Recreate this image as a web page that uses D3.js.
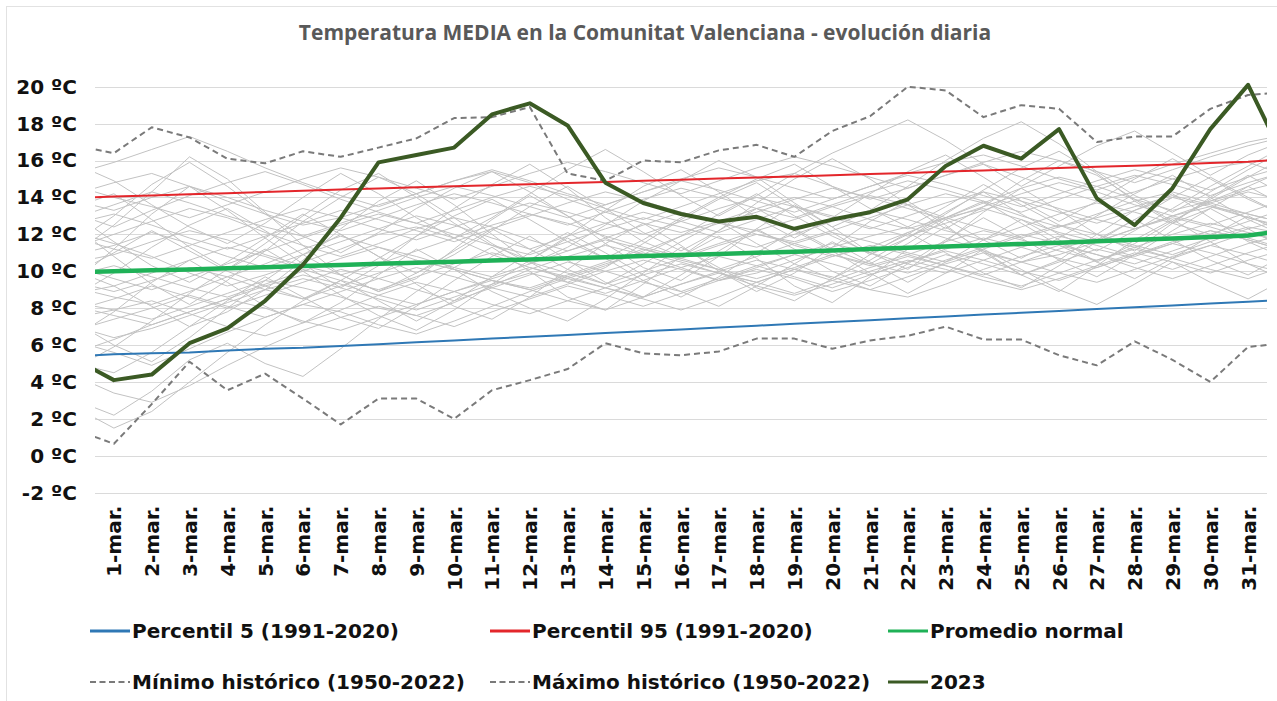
<!DOCTYPE html>
<html>
<head>
<meta charset="utf-8">
<script src="https://cdn.jsdelivr.net/npm/d3@7"></script>
<style>
  body { margin: 0; background: #fff; }
  svg { display: block; }
</style>
</head>
<body>
<div id="chart"></div>
<script>
// days shown on the axis, plus the half-visible neighbours at each edge
const days = ["28-feb."].concat(d3.range(1, 32).map(d => d + "-mar."), ["1-abr."]);
const tickDays = days.slice(1, 32);
const yTicks = [-2, 0, 2, 4, 6, 8, 10, 12, 14, 16, 18, 20];

const p5 = [5.4, 5.5, 5.55, 5.6, 5.7, 5.8, 5.85, 5.95, 6.05, 6.15, 6.25, 6.35, 6.45, 6.55, 6.65, 6.75, 6.85, 6.95, 7.05, 7.15, 7.25, 7.35, 7.45, 7.55, 7.65, 7.75, 7.85, 7.95, 8.05, 8.15, 8.25, 8.35, 8.45];
const p95 = [13.98, 14.05, 14.1, 14.17, 14.23, 14.3, 14.36, 14.43, 14.49, 14.55, 14.6, 14.66, 14.72, 14.78, 14.84, 14.9, 14.96, 15.02, 15.08, 15.14, 15.2, 15.27, 15.33, 15.4, 15.46, 15.53, 15.59, 15.66, 15.72, 15.79, 15.86, 15.93, 16.06];
const promedio = [9.95, 10.0, 10.05, 10.1, 10.16, 10.22, 10.28, 10.34, 10.4, 10.46, 10.52, 10.58, 10.64, 10.7, 10.76, 10.82, 10.88, 10.94, 11.0, 11.06, 11.13, 11.2, 11.27, 11.34, 11.41, 11.48, 11.55, 11.62, 11.7, 11.78, 11.86, 11.94, 12.2];
const minimo = [1.4, 0.65, 2.8, 5.1, 3.55, 4.45, 3.1, 1.7, 3.1, 3.1, 2.0, 3.55, 4.1, 4.7, 6.1, 5.55, 5.45, 5.65, 6.35, 6.35, 5.8, 6.25, 6.5, 7.0, 6.3, 6.3, 5.45, 4.9, 6.2, 5.2, 4.0, 5.9, 6.1];
const maximo = [16.8, 16.4, 17.8, 17.25, 16.1, 15.85, 16.5, 16.2, 16.7, 17.2, 18.3, 18.35, 18.9, 15.3, 14.9, 16.0, 15.9, 16.55, 16.85, 16.2, 17.6, 18.4, 20.0, 19.8, 18.35, 19.0, 18.8, 17.0, 17.3, 17.3, 18.8, 19.55, 19.7];
const y2023 = [5.2, 4.1, 4.4, 6.1, 6.9, 8.4, 10.35, 12.9, 15.9, 16.3, 16.7, 18.5, 19.1, 17.9, 14.8, 13.7, 13.1, 12.7, 12.95, 12.3, 12.8, 13.2, 13.9, 15.7, 16.8, 16.1, 17.7, 13.95, 12.5, 14.5, 17.7, 20.1, 15.9];

// individual years 1950-2022 (a selection of them)
const g1 = [12.1, 11.5, 10.8, 9.9, 9.2, 9.8, 10.5, 11.2, 12.0, 12.4, 11.8, 10.9, 10.2, 9.6, 10.3, 11.1, 11.9, 12.6, 12.2, 11.4, 10.8, 11.3, 12.1, 12.9, 13.4, 12.8, 12.1, 11.6, 12.3, 13.0, 13.5, 13.1, 12.6];
const g2 = [8.3, 7.9, 7.4, 8.1, 8.8, 9.5, 9.1, 8.6, 8.0, 7.6, 8.3, 9.2, 10.1, 10.8, 11.4, 10.9, 10.2, 9.5, 9.9, 10.6, 11.3, 11.9, 12.4, 11.8, 11.1, 10.5, 10.9, 11.6, 12.3, 12.9, 12.4, 11.8, 11.2];
const g3 = [14.2, 14.8, 15.3, 14.6, 13.8, 13.1, 12.5, 12.9, 13.6, 14.2, 14.9, 15.4, 14.8, 13.9, 13.2, 12.6, 12.1, 12.7, 13.4, 14.0, 13.5, 12.8, 12.3, 12.9, 13.7, 14.5, 15.1, 14.6, 13.9, 13.3, 13.8, 14.4, 14.9];
const g4 = [6.2, 5.6, 4.9, 5.8, 6.7, 7.5, 8.2, 7.8, 7.1, 6.6, 7.3, 8.1, 8.9, 9.6, 9.1, 8.5, 7.9, 8.6, 9.4, 10.1, 9.7, 9.0, 8.6, 9.3, 10.1, 10.8, 11.4, 10.9, 10.2, 9.6, 10.3, 11.0, 11.6];
const g5 = [10.5, 10.9, 11.6, 12.2, 11.7, 10.9, 10.3, 9.8, 10.4, 11.1, 11.8, 12.5, 13.1, 12.6, 11.9, 11.3, 10.8, 11.5, 12.2, 12.8, 13.5, 14.1, 13.6, 12.9, 12.3, 11.8, 12.4, 13.1, 13.8, 14.3, 13.7, 13.1, 12.6];
const g6 = [9.1, 8.6, 8.2, 8.9, 9.7, 10.4, 11.2, 11.9, 11.3, 10.6, 10.1, 9.5, 9.1, 9.8, 10.5, 11.2, 10.7, 10.1, 9.6, 10.2, 10.9, 10.4, 9.9, 10.6, 11.3, 12.0, 11.5, 10.9, 10.4, 11.1, 11.8, 12.4, 12.0];
const g7 = [13.1, 12.4, 13.3, 14.1, 14.8, 15.4, 14.7, 13.9, 13.2, 12.6, 13.3, 14.0, 14.6, 14.1, 13.4, 12.8, 13.5, 14.2, 14.9, 15.3, 14.6, 13.9, 14.5, 15.2, 15.8, 15.1, 14.4, 13.8, 14.3, 15.0, 15.6, 15.9, 15.2];
const g8 = [7.5, 7.9, 8.4, 7.7, 7.0, 6.5, 7.2, 7.9, 8.7, 9.4, 8.9, 8.2, 7.7, 8.4, 9.1, 9.8, 10.4, 9.9, 9.2, 8.7, 9.3, 10.0, 10.6, 10.1, 9.5, 9.0, 9.6, 10.3, 11.0, 10.5, 9.9, 10.6, 11.2];
const g9 = [11.3, 12.0, 12.7, 13.4, 12.9, 12.1, 11.4, 10.8, 11.5, 12.3, 12.9, 12.4, 11.7, 11.1, 11.8, 12.5, 13.2, 12.7, 12.0, 11.6, 12.2, 12.9, 13.6, 14.2, 13.7, 13.0, 12.4, 12.9, 13.5, 14.1, 13.6, 12.9, 12.3];
const g10 = [4.3, 3.4, 2.9, 3.8, 4.9, 5.9, 6.8, 7.5, 8.1, 7.6, 7.0, 7.8, 8.5, 9.2, 8.7, 8.1, 8.8, 9.5, 10.1, 9.6, 8.9, 9.5, 10.2, 10.9, 10.4, 9.8, 10.5, 11.2, 10.7, 10.1, 10.8, 11.5, 12.0];
const g11 = [15.3, 15.9, 16.6, 17.3, 16.5, 15.6, 14.8, 14.1, 13.5, 14.2, 14.9, 15.5, 14.9, 14.2, 13.6, 14.3, 15.0, 15.6, 15.1, 14.5, 13.9, 14.6, 15.3, 15.9, 16.3, 15.7, 15.0, 14.4, 15.1, 15.8, 16.4, 17.0, 17.4];
const g12 = [9.8, 10.3, 9.7, 9.1, 8.6, 9.3, 10.0, 10.7, 11.3, 10.8, 10.2, 9.7, 10.4, 11.1, 11.7, 11.2, 10.6, 10.1, 10.8, 11.5, 12.1, 11.6, 11.0, 10.5, 11.2, 11.9, 12.5, 12.0, 11.4, 10.9, 11.6, 12.3, 12.8];
const g13 = [12.6, 13.1, 12.5, 11.8, 11.2, 11.9, 12.6, 13.3, 12.8, 12.2, 11.6, 12.3, 13.0, 13.7, 14.3, 13.8, 13.2, 12.6, 13.2, 13.9, 14.5, 14.0, 13.4, 12.8, 13.5, 14.2, 14.8, 14.3, 13.6, 13.0, 12.5, 13.2, 13.9];
const g14 = [7.0, 6.4, 6.9, 7.6, 8.3, 9.0, 9.6, 9.1, 8.5, 7.9, 8.6, 9.3, 9.9, 9.4, 8.8, 9.5, 10.2, 10.8, 10.3, 9.7, 9.1, 9.8, 10.5, 11.1, 10.6, 10.0, 9.5, 10.2, 10.9, 11.5, 11.0, 10.4, 9.9];
const g15 = [10.9, 11.4, 12.1, 11.5, 10.8, 10.2, 10.9, 11.6, 12.3, 13.0, 12.5, 11.8, 11.2, 11.9, 12.6, 13.2, 12.7, 12.1, 12.8, 13.5, 13.0, 12.4, 11.9, 12.6, 13.3, 14.0, 13.4, 12.8, 12.3, 13.0, 13.7, 14.3, 13.8];
const g16 = [8.8, 9.2, 9.9, 10.6, 11.3, 10.8, 10.1, 9.5, 9.0, 9.7, 10.4, 11.0, 10.5, 9.9, 9.3, 10.0, 10.7, 11.4, 12.0, 11.5, 10.9, 10.3, 10.9, 11.6, 12.2, 11.7, 11.1, 10.6, 11.3, 12.0, 12.6, 12.1, 11.5];
const g17 = [13.8, 13.3, 14.0, 14.6, 14.0, 13.3, 12.7, 12.2, 12.9, 13.6, 14.2, 13.7, 13.1, 12.5, 13.2, 13.9, 14.5, 14.0, 13.4, 12.9, 13.6, 14.3, 14.9, 14.4, 13.8, 13.2, 13.9, 14.6, 15.2, 14.7, 14.1, 14.8, 15.4];
const g18 = [5.6, 6.3, 7.1, 7.8, 8.5, 8.0, 7.3, 6.8, 7.5, 8.2, 8.9, 9.5, 9.0, 8.4, 7.9, 8.6, 9.3, 9.9, 9.4, 8.8, 9.5, 10.2, 10.8, 10.3, 9.7, 9.2, 9.9, 10.6, 11.2, 10.7, 10.1, 9.6, 10.3];
const g19 = [11.8, 11.2, 10.7, 11.4, 12.1, 12.8, 13.4, 12.9, 12.3, 11.7, 12.4, 13.1, 13.7, 13.2, 12.6, 12.0, 12.7, 13.4, 14.0, 13.5, 12.9, 12.3, 13.0, 13.7, 14.3, 13.8, 13.2, 12.6, 13.3, 14.0, 13.5, 12.9, 12.4];
const g20 = [9.4, 8.9, 9.5, 10.2, 9.7, 9.0, 8.5, 9.2, 9.9, 10.6, 10.1, 9.5, 9.0, 9.7, 10.4, 11.0, 10.5, 9.9, 9.4, 10.1, 10.8, 11.4, 10.9, 10.3, 9.8, 10.5, 11.2, 11.8, 11.3, 10.7, 11.4, 12.1, 11.6];
const g21 = [12.9, 13.6, 14.3, 13.7, 13.0, 12.4, 11.9, 12.6, 13.3, 14.0, 14.6, 14.1, 13.5, 12.9, 13.6, 14.3, 14.9, 14.4, 13.8, 13.2, 13.9, 14.6, 15.2, 14.7, 14.1, 13.5, 14.2, 14.9, 15.5, 15.0, 14.4, 15.1, 15.7];
const g22 = [7.9, 8.5, 9.2, 8.6, 8.0, 8.7, 9.4, 10.1, 9.6, 9.0, 8.4, 9.1, 9.8, 10.5, 10.0, 9.4, 8.9, 9.6, 10.3, 10.9, 10.4, 9.8, 10.5, 11.2, 11.8, 11.3, 10.7, 10.2, 10.9, 11.6, 12.2, 11.7, 11.1];
const g23 = [10.2, 9.6, 9.0, 9.7, 10.4, 11.1, 11.8, 12.5, 13.1, 12.6, 12.0, 11.4, 10.9, 11.6, 12.3, 12.9, 12.4, 11.8, 11.3, 12.0, 12.7, 13.3, 12.8, 12.2, 11.7, 12.4, 13.1, 13.7, 13.2, 12.6, 12.0, 12.7, 13.4];
const g24 = [6.8, 7.4, 8.0, 8.7, 8.1, 7.5, 8.2, 8.9, 9.6, 10.2, 9.7, 9.1, 8.6, 9.3, 10.0, 10.6, 10.1, 9.5, 10.2, 10.9, 11.5, 11.0, 10.4, 9.9, 10.6, 11.3, 11.9, 11.4, 10.8, 11.5, 12.2, 11.7, 11.1];
const g25 = [14.6, 14.0, 13.5, 12.9, 13.6, 14.3, 15.0, 15.6, 15.1, 14.5, 13.9, 14.6, 15.3, 15.9, 15.4, 14.8, 14.2, 14.9, 15.6, 16.2, 15.7, 15.1, 14.5, 15.2, 15.9, 16.5, 16.0, 15.4, 14.8, 15.5, 16.2, 16.8, 17.3];
const g26 = [8.1, 7.6, 7.1, 7.8, 8.5, 9.2, 9.8, 9.3, 8.7, 8.2, 8.9, 9.6, 10.2, 9.7, 9.1, 8.6, 9.3, 10.0, 10.6, 10.1, 9.5, 9.0, 9.7, 10.4, 11.0, 10.5, 9.9, 9.4, 10.1, 10.8, 11.4, 10.9, 10.3];
const g27 = [11.0, 12.5, 14.3, 16.2, 15.0, 13.2, 11.4, 9.8, 8.9, 9.6, 11.2, 12.8, 14.1, 13.0, 11.5, 10.2, 9.5, 10.8, 12.3, 13.6, 12.4, 11.0, 10.1, 11.6, 13.2, 14.5, 13.3, 12.0, 11.1, 12.6, 14.0, 15.2, 14.1];
const g28 = [3.0, 2.2, 3.5, 5.2, 6.1, 5.0, 4.3, 5.8, 7.4, 8.9, 10.2, 11.3, 10.0, 8.6, 7.9, 9.3, 10.8, 11.9, 10.7, 9.2, 8.3, 9.7, 11.2, 12.4, 11.1, 9.8, 8.9, 10.3, 11.7, 12.8, 11.6, 10.4, 9.5];
const g29 = [9.5, 11.2, 13.1, 14.6, 13.3, 11.8, 10.4, 9.1, 10.3, 11.9, 13.4, 14.7, 15.8, 14.5, 12.9, 11.6, 10.8, 12.2, 13.7, 15.0, 16.1, 15.0, 13.6, 12.3, 13.5, 14.9, 16.0, 15.2, 13.9, 12.7, 13.9, 15.1, 16.2];
const g30 = [7.2, 6.0, 5.1, 6.4, 8.0, 9.5, 10.9, 12.0, 10.8, 9.3, 8.1, 7.4, 8.6, 10.1, 11.5, 12.6, 11.4, 10.0, 8.9, 9.9, 11.3, 12.7, 13.8, 12.5, 11.0, 9.8, 10.6, 12.0, 13.3, 14.2, 12.9, 11.6, 10.7];
const g31 = [13.5, 14.2, 12.8, 11.3, 10.1, 11.5, 13.0, 14.4, 15.3, 14.0, 12.6, 11.4, 10.6, 11.9, 13.3, 14.6, 15.5, 14.3, 12.9, 11.8, 12.9, 14.2, 15.4, 16.3, 15.1, 13.8, 12.7, 13.8, 15.0, 16.1, 15.0, 13.9, 13.0];
const g32 = [5.0, 4.5, 5.6, 7.0, 8.4, 9.7, 8.6, 7.5, 6.9, 8.1, 9.5, 10.8, 11.9, 10.6, 9.4, 8.6, 9.8, 11.1, 12.3, 11.2, 10.0, 9.2, 10.4, 11.7, 12.9, 11.8, 10.6, 9.7, 10.9, 12.2, 13.4, 12.3, 11.2];
const g33 = [10.0, 9.2, 8.1, 7.0, 7.8, 9.0, 10.6, 12.3, 13.8, 14.9, 13.6, 12.0, 10.5, 9.4, 10.2, 11.5, 12.8, 13.9, 14.8, 13.5, 12.1, 10.9, 11.8, 13.1, 14.4, 15.6, 16.5, 15.3, 13.8, 12.6, 13.4, 14.6, 15.5];
const g34 = [12.4, 10.8, 9.3, 8.2, 9.5, 11.1, 12.7, 14.0, 15.1, 14.2, 12.9, 11.5, 10.4, 11.3, 12.5, 13.8, 14.9, 16.0, 15.1, 13.7, 12.4, 13.3, 14.6, 16.0, 17.2, 18.1, 16.9, 15.4, 14.1, 13.2, 14.3, 15.5, 16.6];
const g35 = [6.5, 7.8, 9.4, 10.6, 9.4, 8.1, 7.2, 8.3, 9.8, 11.2, 10.1, 8.9, 8.0, 7.3, 8.5, 9.9, 11.3, 10.2, 9.1, 8.4, 9.6, 10.9, 12.1, 11.0, 9.9, 9.1, 10.3, 11.6, 12.8, 11.7, 10.6, 9.8, 10.9];
const g36 = [15.8, 14.9, 13.6, 12.4, 11.5, 12.6, 14.0, 15.3, 14.2, 12.9, 11.8, 12.9, 14.2, 15.5, 16.6, 15.4, 14.1, 13.0, 14.1, 15.3, 16.4, 17.3, 18.2, 17.1, 15.8, 14.6, 15.7, 16.8, 17.6, 16.4, 15.2, 16.3, 17.1];
const g37 = [4.8, 5.9, 7.3, 8.8, 10.1, 11.2, 10.0, 8.7, 7.6, 6.8, 7.9, 9.3, 10.6, 11.8, 10.7, 9.5, 8.6, 9.7, 11.0, 12.2, 11.1, 9.9, 8.8, 9.9, 11.2, 10.1, 9.0, 8.2, 9.3, 10.5, 9.4, 8.5, 9.6];
const g38 = [11.6, 13.0, 14.7, 15.9, 14.6, 13.1, 11.9, 11.0, 12.1, 13.4, 14.5, 15.4, 14.3, 13.0, 11.8, 10.9, 11.9, 13.1, 14.2, 13.0, 11.9, 11.0, 12.0, 13.2, 14.3, 13.1, 12.0, 11.1, 12.2, 13.4, 14.6, 15.7, 16.8];
const g39 = [8.7, 9.9, 11.3, 12.5, 13.4, 12.2, 10.9, 9.8, 8.9, 9.9, 11.1, 12.3, 11.2, 10.1, 9.3, 10.4, 11.6, 12.7, 11.5, 10.4, 9.6, 10.6, 11.8, 12.9, 13.8, 12.6, 11.4, 10.5, 11.5, 12.7, 13.8, 14.6, 13.5];
const g40 = [13.0, 11.6, 10.3, 9.4, 10.5, 11.8, 13.1, 12.0, 10.8, 9.9, 10.9, 12.2, 13.5, 14.6, 13.4, 12.1, 11.1, 12.2, 13.4, 12.3, 11.2, 10.4, 11.5, 12.8, 11.7, 10.7, 11.8, 13.0, 14.2, 15.2, 14.0, 12.8, 11.9];
const g41 = [2.6, 1.5, 2.4, 4.0, 5.6, 7.1, 8.4, 9.5, 8.4, 7.3, 8.4, 9.7, 11.0, 12.1, 11.0, 9.8, 8.9, 8.1, 9.2, 10.4, 11.6, 10.5, 9.4, 10.5, 11.7, 12.8, 11.7, 10.5, 9.6, 10.7, 11.9, 13.0, 12.0];
const g42 = [9.9, 11.0, 12.2, 11.1, 10.0, 9.2, 8.5, 9.5, 10.7, 11.9, 13.0, 13.9, 12.8, 11.6, 10.7, 11.7, 12.9, 14.0, 15.0, 15.8, 14.6, 13.4, 12.4, 13.5, 14.7, 13.6, 12.5, 11.7, 12.8, 14.0, 15.1, 14.0, 13.0];
const years = [g1, g2, g3, g4, g5, g6, g7, g8, g9, g10, g11, g12, g13, g14, g15, g16, g17, g18, g19, g20, g21,
               g22, g23, g24, g25, g26, g27, g28, g29, g30, g31, g32, g33, g34, g35, g36, g37, g38, g39, g40, g41, g42];

const W = 1277, H = 701;
const plotLeft = 95, plotRight = 1267, plotTop = 86.7, plotBottom = 492.7;
const step = (plotRight - plotLeft) / tickDays.length;

const svg = d3.select("#chart").append("svg")
    .attr("width", W)
    .attr("height", H);

svg.append("rect").attr("width", W).attr("height", H).attr("fill", "#fff");
svg.append("rect")
    .attr("x", 6.5).attr("y", 6.5)
    .attr("width", W).attr("height", H)
    .attr("fill", "none")
    .attr("stroke", "#e2e2e2");

const x = d3.scalePoint()
    .domain(days)
    .range([plotLeft - step / 2, plotRight + step / 2]);

const y = d3.scaleLinear()
    .domain([-2, 20])
    .range([plotBottom, plotTop]);

// title
svg.append("text")
    .attr("x", 645).attr("y", 33)
    .attr("dy", "0.35em")
    .attr("text-anchor", "middle")
    .attr("font-family", "'Open Sans', Lato, sans-serif")
    .attr("font-weight", "bold")
    .attr("font-size", "21px")
    .attr("fill", "#595959")
    .text("Temperatura MEDIA en la Comunitat Valenciana - evolución diaria");

// grid lines
svg.append("g")
    .selectAll("line")
    .data(yTicks)
    .join("line")
    .attr("x1", plotLeft).attr("x2", plotRight)
    .attr("y1", d => Math.round(y(d)) + 0.5)
    .attr("y2", d => Math.round(y(d)) + 0.5)
    .attr("stroke", "#dadada");

// y labels
const yAxis = svg.append("g")
    .attr("transform", "translate(" + (plotLeft - 18) + ",0)")
    .call(d3.axisLeft(y).tickValues(yTicks).tickSize(0).tickPadding(0)
        .tickFormat(d => d + " ºC"));
yAxis.select(".domain").remove();
yAxis.selectAll("text")
    .attr("font-family", "'DejaVu Sans', Verdana, sans-serif")
    .attr("font-weight", "bold")
    .attr("font-size", "20px")
    .attr("fill", "#111");

// x labels, rotated
const xAxis = svg.append("g")
    .attr("transform", "translate(0," + (plotBottom + 13) + ")")
    .call(d3.axisBottom(x).tickValues(tickDays).tickSize(0).tickPadding(0));
xAxis.select(".domain").remove();
xAxis.selectAll("text")
    .attr("transform", "rotate(-90)")
    .attr("text-anchor", "end")
    .attr("x", 0).attr("y", 0)
    .attr("dy", "0.35em")
    .attr("font-family", "'DejaVu Sans', Verdana, sans-serif")
    .attr("font-weight", "bold")
    .attr("font-size", "20px")
    .attr("fill", "#111");

svg.append("clipPath").attr("id", "plot")
    .append("rect")
    .attr("x", plotLeft).attr("y", plotTop - 20)
    .attr("width", plotRight - plotLeft).attr("height", plotBottom - plotTop + 20);

const plot = svg.append("g").attr("clip-path", "url(#plot)");

const line = d3.line()
    .x((d, i) => x(days[i]))
    .y(d => y(d));

plot.append("g")
    .selectAll("path")
    .data(years)
    .join("path")
    .attr("d", line)
    .attr("fill", "none")
    .attr("stroke", "#c2c2c2")
    .attr("stroke-width", 1);

const series = [
  { name: "Percentil 5 (1991-2020)", values: p5, color: "#2f78b5", width: 2, dash: null },
  { name: "Percentil 95 (1991-2020)", values: p95, color: "#e3262b", width: 2, dash: null },
  { name: "Promedio normal", values: promedio, color: "#1fb157", width: 4.5, dash: null },
  { name: "Mínimo histórico (1950-2022)", values: minimo, color: "#7a7a7a", width: 2, dash: "6,4" },
  { name: "Máximo histórico (1950-2022)", values: maximo, color: "#7a7a7a", width: 2, dash: "6,4" },
  { name: "2023", values: y2023, color: "#3b5a24", width: 4, dash: null }
];

plot.selectAll("path.serie")
    .data(series)
    .join("path")
    .attr("class", "serie")
    .attr("d", d => line(d.values))
    .attr("fill", "none")
    .attr("stroke", d => d.color)
    .attr("stroke-width", d => d.width)
    .attr("stroke-dasharray", d => d.dash)
    .attr("stroke-linejoin", "round");

// legend, 3 columns x 2 rows
const legend = svg.append("g");
const item = legend.selectAll("g")
    .data(series)
    .join("g")
    .attr("transform", (d, i) => "translate(" + [90, 490, 888][i % 3] + "," + (i < 3 ? 631 : 682) + ")");
item.append("line")
    .attr("x1", 0).attr("x2", 40)
    .attr("stroke", d => d.color)
    .attr("stroke-width", d => d.dash ? 2 : 3)
    .attr("stroke-dasharray", d => d.dash ? "6,3.5" : null);
item.append("text")
    .attr("x", 42)
    .attr("dy", "0.35em")
    .attr("font-family", "'DejaVu Sans', Verdana, sans-serif")
    .attr("font-weight", "bold")
    .attr("font-size", "20px")
    .attr("fill", "#111")
    .text(d => d.name);
</script>
</body>
</html>
